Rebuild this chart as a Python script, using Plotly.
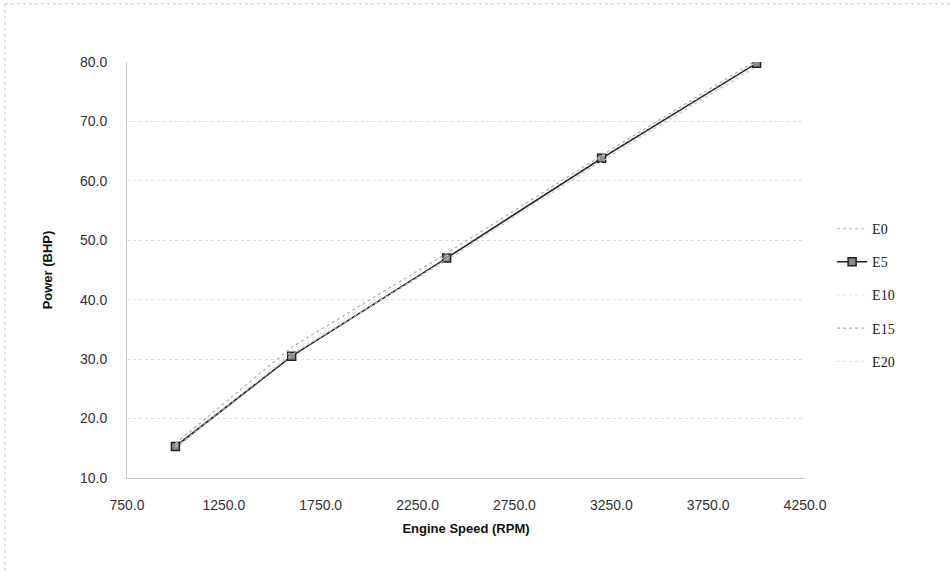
import plotly.graph_objects as go

rpm = [1000, 1600, 2400, 3200, 4000]
e0 = [15.0, 30.9, 46.6, 63.4, 79.4]
e5 = [15.3, 30.5, 47.0, 63.8, 79.8]
e10 = [15.6, 31.3, 47.4, 64.0, 80.0]
e15 = [15.8, 32.0, 47.8, 64.3, 80.3]
e20 = [15.2, 30.7, 46.8, 63.2, 79.1]

series = [
    ("E0", e0, dict(color="#c8c8c8", width=1.2, dash="dot"), None),
    ("E5", e5, dict(color="#2a2a2a", width=1.6), dict(symbol="square", size=8, color="#8a8a8a", line=dict(color="#222", width=1.5))),
    ("E10", e10, dict(color="#e2e2e2", width=1.0, dash="dot"), None),
    ("E15", e15, dict(color="#b0b0b0", width=1.2, dash="dot"), None),
    ("E20", e20, dict(color="#e0e0e0", width=1.0, dash="dot"), None),
]

fig = go.Figure()
for name, ys, line, marker in series:
    fig.add_trace(go.Scatter(
        x=rpm, y=ys, name=name, legendgroup=name,
        mode="lines+markers" if marker else "lines",
        line=line, marker=marker,
    ))

font = "Liberation Sans"
fig.update_layout(
    width=950, height=573,
    margin=dict(l=127, r=145, t=62, b=95),
    paper_bgcolor="white", plot_bgcolor="white",
    font=dict(family=font, size=13, color="#222"),
    showlegend=True,
    legend=dict(x=1.04, y=0.44, xanchor="left", yanchor="middle",
                tracegroupgap=12, font=dict(size=14, family="Liberation Serif", color="#222"),
                itemwidth=30, bgcolor="rgba(0,0,0,0)"),
    xaxis=dict(range=[750, 4250], tickvals=[750, 1250, 1750, 2250, 2750, 3250, 3750, 4250],
               ticktext=["750.0", "1250.0", "1750.0", "2250.0", "2750.0", "3250.0", "3750.0", "4250.0"],
               showgrid=False, zeroline=False, showline=True, linecolor="#cccccc", linewidth=1,
               ticklabelstandoff=14, tickfont=dict(size=14, color="#333"),
               title=dict(text="<b>Engine Speed (RPM)</b>", font=dict(size=13, color="#111"), standoff=12)),
    yaxis=dict(range=[10, 80], tickvals=[10, 20, 30, 40, 50, 60, 70, 80],
               ticktext=["10.0", "20.0", "30.0", "40.0", "50.0", "60.0", "70.0", "80.0"],
               showgrid=True, gridcolor="#dddddd", griddash="dot", gridwidth=1,
               zeroline=False, showline=True, linecolor="#cccccc", linewidth=1,
               ticklabelstandoff=16, tickfont=dict(size=14, color="#333"),
               title=dict(text="<b>Power (BHP)</b>", font=dict(size=13, color="#111"), standoff=24)),
)

fig.add_shape(type="line", xref="paper", yref="paper", x0=-0.18, x1=1.25, y0=1.14, y1=1.14,
              line=dict(color="#c8c8c8", width=1, dash="dot"))
fig.add_shape(type="line", xref="paper", yref="paper", x0=-0.18, x1=-0.18, y0=1.14, y1=-0.25,
              line=dict(color="#c8c8c8", width=1, dash="dot"))

fig.write_html("out.html")
